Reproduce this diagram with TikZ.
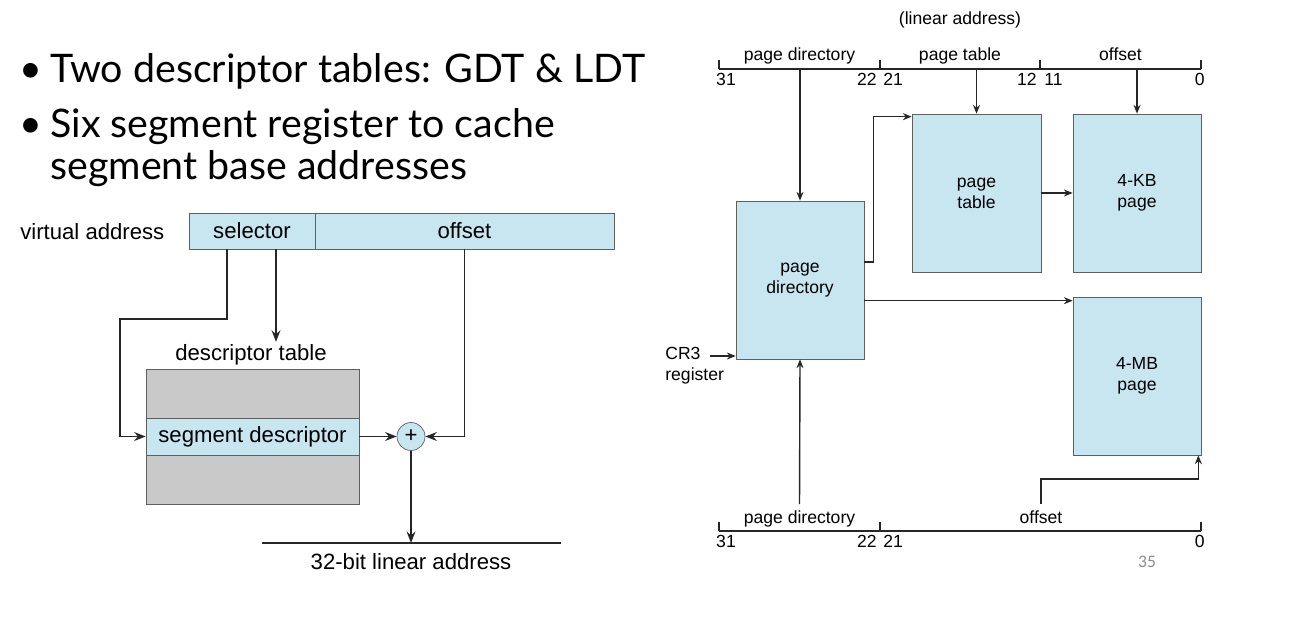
\documentclass[tikz,border=0pt]{standalone}
\usepackage{fontspec}
\setmainfont{Liberation Sans}
\newfontfamily\slidefont{Lato}
\newfontfamily\numfont{Carlito}
\usetikzlibrary{arrows.meta}
\definecolor{pageblue}{RGB}{199,230,240}
\definecolor{tablegray}{RGB}{201,201,201}
\definecolor{edgegray}{RGB}{95,95,95}
\tikzset{
  point/.style={font=\slidefont\fontsize{22.4}{26}\selectfont, inner sep=0pt},
  big/.style={font=\fontsize{12.6}{15}\selectfont},
  small/.style={font=\fontsize{10}{12}\selectfont, align=center},
  field/.style={draw=edgegray, fill=pageblue, minimum height=0.72cm, inner sep=0pt, big},
  pagebox/.style={draw=edgegray, fill=pageblue, minimum width=2.56cm, minimum height=3.16cm, inner sep=0pt, small},
  link/.style={black!85, line width=1.1pt, >={Stealth[length=6.5pt,width=5pt]}},
  wire/.style={black!85, line width=0.8pt},
}
\begin{document}
\begin{tikzpicture}[x=0.02cm, y=-0.02cm, >={Stealth[length=5pt,width=4pt]}]
    \useasboundingbox (0,0) rectangle (1290,616);
    % bullet text
    \node[point, anchor=base] (dot1) at (31,82) {•};
    \node[point, anchor=base west] (gdt) at (50,82) {Two descriptor tables: GDT \& LDT};
    \node[point, anchor=base] (dot2) at (31,137) {•};
    \node[point, anchor=base west] (seg1) at (50,137) {Six segment register to cache};
    \node[point, anchor=base west] (seg2) at (50,179) {segment base addresses};

    % segmentation
    \node[big, anchor=west, inner sep=0pt] (va) at (20,232) {virtual address};
    \node[field, minimum width=2.52cm] (sel) at (252,231) {selector};
    \node[field, minimum width=5.98cm] (off) at (464.5,231) {offset};
    \node[draw=edgegray, fill=tablegray, minimum width=4.26cm, minimum height=2.7cm] (tab) at (252.5,436.5) {};
    \node[field, minimum width=4.26cm, minimum height=0.74cm] (desc) at (252.5,436.5) {segment descriptor};
    \node[big] (tabname) at (251,355) {descriptor table};
    \node[draw=edgegray, fill=pageblue, circle, minimum size=0.56cm, inner sep=0pt, big] (plus) at (411,436.5) {+};
    \coordinate (lin1) at (262,543);
    \coordinate (lin2) at (561,543);
    \node[big] (linname) at (411,562) {32-bit linear address};

    \draw[link, ->] ([xshift=-0.5cm]sel.south) |- (120,319) |- (desc.west);
    \draw[link, ->] ([xshift=0.48cm]sel.south) -- ++(0,92.5);
    \draw[link, ->] (desc.east) -- (plus.west);
    \draw[link, ->] (off.south) |- (plus.east);
    \draw[link, ->] (plus.south) -- (plus.south |- lin1);
    \draw[wire] (lin1) -- (lin2);

    % paging
    \node[small] (linear) at (960,20) {(linear address)};
    \coordinate (t31) at (719,69);
    \coordinate (t22) at (880,69);
    \coordinate (t12) at (1040,69);
    \coordinate (t0) at (1201,69);
    \draw[wire] (t31) -- (t0);
    \foreach \c in {t31,t22,t12,t0}
        \draw[wire] (\c) -- ++(0,-9);
    \node[small, anchor=base] (tdir) at (799.5,60) {page directory};
    \node[small, anchor=base] (ttab) at (960,60) {page table};
    \node[small, anchor=base] (toff) at (1120.5,60) {offset};
    \node[small, anchor=base, inner sep=0pt] (n31) at (726,85) {31};
    \node[small, anchor=base east, inner sep=0pt] (n22) at (877,85) {22};
    \node[small, anchor=base west, inner sep=0pt] (n21) at (883,85) {21};
    \node[small, anchor=base east, inner sep=0pt] (n12) at (1037,85) {12};
    \node[small, anchor=base west, inner sep=0pt] (n11) at (1044,85) {11};
    \node[small, anchor=base east, inner sep=0pt] (n0) at (1205,85) {0};

    \node[pagebox] (pd) at (800,280) {page\\directory};
    \node[pagebox, minimum width=2.58cm] (pt) at (976.5,193) {page\\table};
    \node[pagebox] (kb) at (1137,193) {4-KB\\page};
    \node[pagebox] (mb) at (1137,376) {4-MB\\page};
    \node[small, align=left, anchor=north west, inner sep=0pt] (cr3) at (665,347) {CR3\\register};

    \coordinate (b31) at (719,531);
    \coordinate (b22) at (880,531);
    \coordinate (b0) at (1201,531);
    \draw[wire] (b31) -- (b0);
    \foreach \c in {b31,b22,b0}
        \draw[wire] (\c) -- ++(0,-9);
    \node[small, anchor=base] (bdir) at (799.5,523) {page directory};
    \node[small, anchor=base] (boff) at (1041,523) {offset};
    \node[small, anchor=base, inner sep=0pt] (m31) at (726,547) {31};
    \node[small, anchor=base east, inner sep=0pt] (m22) at (877,547) {22};
    \node[small, anchor=base west, inner sep=0pt] (m21) at (883,547) {21};
    \node[small, anchor=base east, inner sep=0pt] (m0) at (1205,547) {0};

    \draw[wire, ->] (pd.north |- t31) -- (pd.north);
    \draw[wire, ->] (pt.north |- t31) -- (pt.north);
    \draw[wire, ->] (kb.north |- t31) -- (kb.north);
    \draw[wire, ->] ([yshift=0.36cm]pd.east) -- ++(9,0) |- ([yshift=-0.06cm]pt.north west);
    \draw[wire, ->] (pt.east) -- (kb.west);
    \draw[wire, ->] ([yshift=-0.08cm]mb.north west -| pd.east) -- ([yshift=-0.08cm]mb.north west);
    \draw[wire, ->] (710,356) -- (pd.west |- 0,356);
    \draw[wire, ->] (bdir.north) -- (pd.south);
    \draw[wire, ->] (boff.north) -- ++(0,-25) -| ([xshift=-0.06cm]mb.south east);

    \node[font=\numfont\fontsize{10}{12}\selectfont, text=black!45] (num) at (1147,562) {35};
\end{tikzpicture}
\end{document}
